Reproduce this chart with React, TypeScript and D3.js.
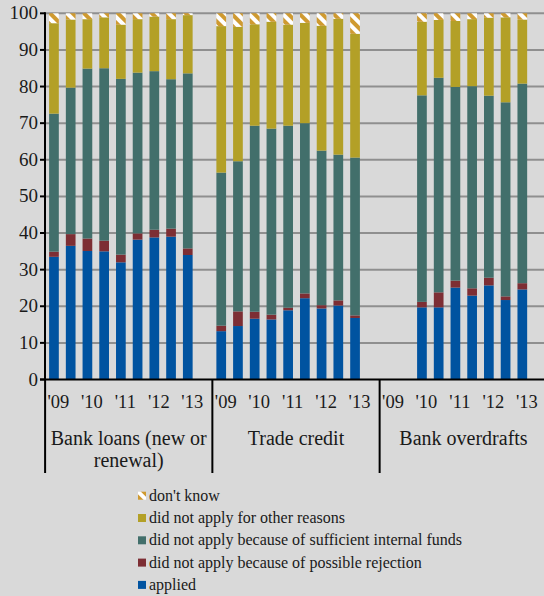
import React, { useEffect } from "react";
import * as d3 from "d3";

// ---- data ----
const groupLabelLines: string[][] = [["Bank loans (new or", "renewal)"], ["Trade credit"], ["Bank overdrafts"]];
const periods = ["H1 09", "H2 09", "H1 10", "H2 10", "H1 11", "H2 11", "H1 12", "H2 12", "H1 13"];
const yearLabels = ["'09", "'10", "'11", "'12", "'13"];
const yTicks = [0, 10, 20, 30, 40, 50, 60, 70, 80, 90, 100];

const seriesKeys = ["applied", "rejection", "internal", "other", "dontknow"];
const legendLabels = [
  "don't know",
  "did not apply for other reasons",
  "did not apply because of sufficient internal funds",
  "did not apply because of possible rejection",
  "applied",
];

// per group: Bank loans, Trade credit, Bank overdrafts (null = no survey)
const applied = [
  [33.5, 36.5, 35.1, 35.0, 32.0, 38.2, 38.8, 39.0, 34.0],
  [13.2, 14.6, 16.6, 16.4, 18.9, 22.2, 19.4, 20.2, 16.8],
  [null, null, 19.7, 19.7, 25.1, 22.9, 25.7, 21.7, 24.6],
];
const rejection = [
  [1.4, 3.2, 3.4, 2.9, 2.1, 1.7, 2.1, 2.2, 1.8],
  [1.5, 4.0, 1.9, 1.3, 0.7, 1.3, 0.9, 1.4, 0.7],
  [null, null, 1.5, 4.1, 1.9, 2.0, 2.1, 1.0, 1.7],
];
const internalFunds = [
  [37.7, 40.0, 46.4, 47.1, 48.0, 43.9, 43.3, 40.8, 47.8],
  [41.8, 41.0, 50.8, 50.8, 49.7, 46.5, 42.2, 39.8, 43.1],
  [null, null, 56.4, 58.6, 52.9, 55.2, 49.7, 53.0, 54.5],
];
const otherReasons = [
  [24.7, 18.6, 13.5, 13.9, 14.8, 14.6, 14.9, 16.4, 15.9],
  [40.0, 36.7, 27.7, 29.2, 27.6, 27.4, 34.1, 37.1, 33.8],
  [null, null, 20.1, 15.8, 18.0, 18.3, 21.3, 23.2, 17.5],
];
const dontKnow = [
  [2.7, 1.7, 1.6, 1.1, 3.1, 1.6, 0.9, 1.6, 0.5],
  [3.5, 3.7, 3.0, 2.3, 3.1, 2.6, 3.4, 1.5, 5.6],
  [null, null, 2.3, 1.8, 2.1, 1.6, 1.2, 1.1, 1.7],
];

const COLORS: Record<string, string> = {
  applied: "#0053a0",
  rejection: "#7d2e34",
  internal: "#426f6b",
  other: "#b3a027",
  dontknow: "url(#dkHatch)",
};

const W = 544;
const H = 596;
const FONT = "Liberation Serif";

export default function App() {
  useEffect(() => {
    document.body.style.margin = "0";
    document.body.style.background = "#d9d9d9";
  }, []);

  const slotsPerGroup = periods.length + 1;
  const keys: string[] = [];
  groupLabelLines.forEach((_, g) => {
    for (let i = 0; i < slotsPerGroup; i++) keys.push(`${g}-${i}`);
  });

  const x = d3
    .scaleBand<string>()
    .domain(keys)
    .range([45.6, 547.4])
    .paddingInner(0.42)
    .paddingOuter(0.21);
  const y = d3.scaleLinear().domain([0, 100]).range([379.5, 13.3]);

  type Row = { key: string; has: boolean; [k: string]: any };
  const rows: Row[] = [];
  groupLabelLines.forEach((_, g) => {
    periods.forEach((_p, i) => {
      const a = applied[g][i];
      rows.push({
        key: `${g}-${i}`,
        has: a != null,
        applied: a ?? 0,
        rejection: rejection[g][i] ?? 0,
        internal: internalFunds[g][i] ?? 0,
        other: otherReasons[g][i] ?? 0,
        dontknow: dontKnow[g][i] ?? 0,
      });
    });
  });
  const stacked = d3.stack<Row>().keys(seriesKeys)(rows);

  const step = x.step();
  const axisX = 45;
  const xAxisY = y(0);
  const groupEdges = groupLabelLines.map((_, g) => (x(`${g}-0`) as number) - step * 0.21 - 0.5);
  const lastEdge = (x(`${groupLabelLines.length - 1}-${slotsPerGroup - 1}`) as number) + x.bandwidth() + step * 0.21;

  return (
    <svg width={W} height={H} fontFamily={FONT} style={{ position: "absolute", left: 0, top: 0, display: "block" }}>
      <defs>
        <pattern id="dkHatch" patternUnits="userSpaceOnUse" width={8} height={8} patternTransform="rotate(-45)">
          <rect width={8} height={8} fill="#ffffff" />
          <rect width={4} height={8} fill="#cf9a30" />
        </pattern>
      </defs>
      <rect width={W} height={H} fill="#d9d9d9" />

      {/* gridlines */}
      {yTicks.filter((t) => t > 0).map((t) => (
        <line key={t} x1={axisX} x2={W} y1={y(t)} y2={y(t)} stroke="#8f8f8f" strokeWidth={2} />
      ))}

      {/* bars */}
      {stacked.map((layer) => (
        <g key={layer.key}>
          {layer.map((d, i) =>
            d.data.has ? (
              <rect
                key={i}
                x={x(d.data.key)}
                width={x.bandwidth()}
                y={y(d[1])}
                height={Math.max(0, y(d[0]) - y(d[1]))}
                fill={COLORS[layer.key]}
              />
            ) : null
          )}
        </g>
      ))}

      {/* y axis */}
      <line x1={axisX} x2={axisX} y1={y(100) - 1} y2={xAxisY} stroke="#000" strokeWidth={2} />
      {yTicks.map((t) => (
        <g key={t}>
          <line x1={axisX - 5} x2={axisX} y1={y(t)} y2={y(t)} stroke="#000" strokeWidth={2} />
          <text x={axisX - 7} y={y(t) + 6} textAnchor="end" fontSize={19} fill="#1a1a1a" fontFamily={FONT}>
            {t}
          </text>
        </g>
      ))}

      {/* x axis */}
      <line x1={axisX - 5} x2={W} y1={xAxisY} y2={xAxisY} stroke="#000" strokeWidth={2} />
      {groupEdges.map((gx, g) => (
        <line key={g} x1={gx} x2={gx} y1={xAxisY} y2={473} stroke="#000" strokeWidth={2} />
      ))}

      {/* year labels */}
      {groupLabelLines.map((_, g) =>
        yearLabels.map((lab, k) => (
          <text
            key={`${g}-${k}`}
            x={(x(`${g}-${k * 2}`) as number) + x.bandwidth() / 2 + 4.5}
            y={408}
            textAnchor="middle"
            fontSize={18.5}
            fill="#1a1a1a"
            fontFamily={FONT}
          >
            {lab}
          </text>
        ))
      )}

      {/* group labels */}
      {groupLabelLines.map((lines, g) => {
        const left = groupEdges[g];
        const right = g < groupEdges.length - 1 ? groupEdges[g + 1] : lastEdge;
        const cx = (left + right) / 2;
        return (
          <text key={g} x={cx} textAnchor="middle" fontSize={20} fill="#1a1a1a" fontFamily={FONT}>
            {lines.map((ln, j) => (
              <tspan key={j} x={cx} y={445 + j * 22}>
                {ln}
              </tspan>
            ))}
          </text>
        );
      })}

      {/* legend */}
      {legendLabels.map((lab, i) => {
        const by = 500.7 + i * 22.3;
        const key = seriesKeys[seriesKeys.length - 1 - i];
        return (
          <g key={lab}>
            <rect x={138} y={by - 9} width={8} height={8} fill={COLORS[key]} />
            <text x={149} y={by} fontSize={16} fill="#1a1a1a" fontFamily={FONT}>
              {lab}
            </text>
          </g>
        );
      })}
    </svg>
  );
}
